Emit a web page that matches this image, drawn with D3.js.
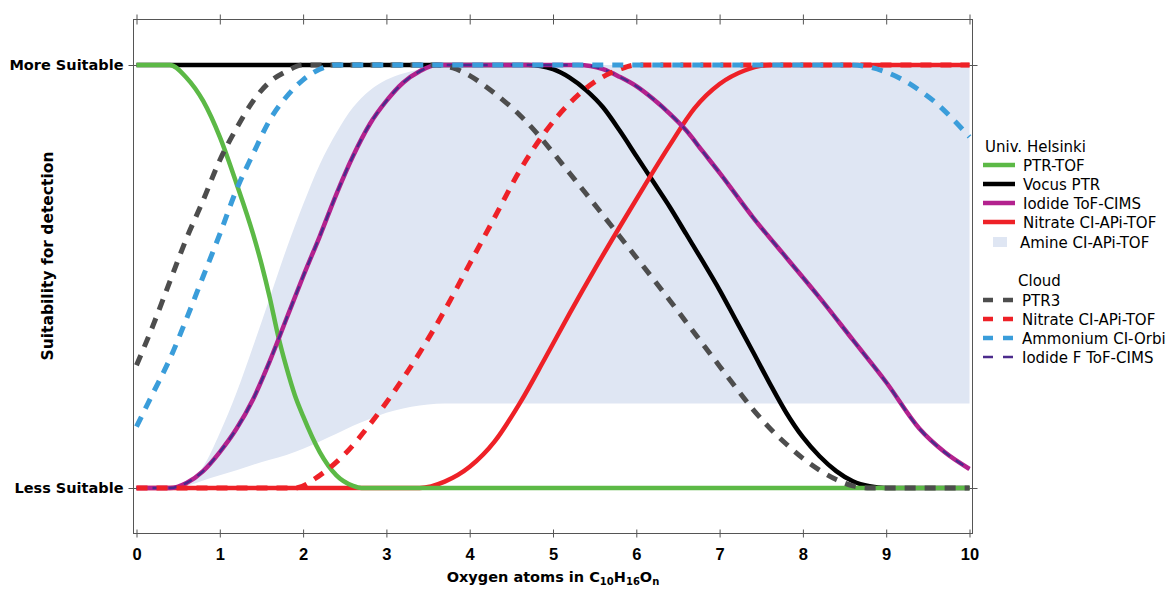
<!DOCTYPE html>
<html>
<head>
<meta charset="utf-8">
<script src="https://cdn.jsdelivr.net/npm/d3@7"></script>
<style>
  body { margin: 0; background: #fff; }
  svg { font-family: "DejaVu Sans", sans-serif; }
</style>
</head>
<body>
<svg width="1169" height="589"></svg>
<script>
// values: [oxygen atoms, suitability 0..1]
var xTicks = [0, 1, 2, 3, 4, 5, 6, 7, 8, 9, 10];
var yTickLabels = ["Less Suitable", "More Suitable"];

var ptrTof = [[0,1],[0.4,1],[0.6,0.97],[0.8,0.915],[1.0,0.83],[1.2,0.72],[1.4,0.6],[1.5,0.53],[1.6,0.45],
  [1.7,0.36],[1.8,0.285],[1.9,0.22],[2.0,0.17],[2.2,0.085],[2.4,0.03],[2.6,0.005],[2.7,0],[10,0]];
var vocusPtr = [[0,1],[4.7,1],[5.0,0.99],[5.2,0.97],[5.4,0.94],[5.6,0.9],[5.8,0.845],[6.0,0.785],[6.2,0.725],
  [6.4,0.665],[6.6,0.6],[6.8,0.535],[7.0,0.468],[7.2,0.395],[7.4,0.322],[7.6,0.248],[7.8,0.178],
  [8.0,0.12],[8.2,0.075],[8.4,0.04],[8.6,0.016],[8.8,0.004],[9.0,0],[10,0]];
var iodideTof = [[0,0],[0.4,0],[0.6,0.012],[0.8,0.04],[1.0,0.085],[1.2,0.14],[1.4,0.21],[1.6,0.3],[1.8,0.4],
  [2.0,0.5],[2.2,0.595],[2.4,0.695],[2.6,0.785],[2.8,0.86],[3.0,0.915],[3.2,0.958],[3.4,0.985],[3.6,1],
  [5.3,1],[5.6,0.99],[5.8,0.972],[6.0,0.95],[6.2,0.92],[6.4,0.885],[6.6,0.845],[6.8,0.795],[7.0,0.745],
  [7.4,0.64],[7.8,0.545],[8.2,0.45],[8.6,0.35],[9.0,0.25],[9.4,0.14],[9.7,0.085],[10,0.045]];
var nitrateTof = [[0,0],[3.4,0],[3.7,0.015],[4.0,0.05],[4.3,0.11],[4.6,0.2],[4.9,0.305],[5.2,0.413],
  [5.5,0.517],[5.8,0.617],[6.1,0.715],[6.4,0.81],[6.7,0.898],[7.0,0.955],[7.3,0.987],[7.6,1],[10,1]];
var amineX = [0.45,0.6,0.8,1.0,1.2,1.4,1.6,1.8,2.0,2.2,2.4,2.6,2.8,3.0,3.2,3.4,3.6,3.8,4.0,10];
var amineLow = [0,0.005,0.018,0.03,0.042,0.055,0.067,0.078,0.093,0.11,0.128,0.147,0.163,0.178,0.188,0.195,0.199,0.2,0.2,0.2];
var amineHigh = [0,0.01,0.05,0.13,0.225,0.335,0.45,0.565,0.67,0.765,0.84,0.9,0.94,0.965,0.98,0.99,0.996,1,1,1];

var ptr3 = [[0,0.29],[0.2,0.385],[0.4,0.488],[0.6,0.59],[0.8,0.68],[1.0,0.775],[1.2,0.85],[1.4,0.915],
  [1.6,0.96],[1.8,0.985],[2.0,1],[3.6,1],[3.8,0.993],[4.0,0.975],[4.2,0.948],[4.4,0.917],[4.6,0.882],
  [4.8,0.84],[5.0,0.793],[5.2,0.744],[5.4,0.695],[5.6,0.645],[5.8,0.595],[6.0,0.545],[6.2,0.495],
  [6.4,0.444],[6.6,0.392],[6.8,0.34],[7.0,0.288],[7.2,0.236],[7.4,0.186],[7.6,0.142],[7.8,0.104],
  [8.0,0.07],[8.2,0.042],[8.4,0.02],[8.6,0.005],[8.8,0],[10,0]];
var nitrateCloud = [[0,0],[1.9,0],[2.2,0.03],[2.5,0.08],[2.8,0.15],[3.1,0.23],[3.4,0.32],[3.7,0.42],
  [4.0,0.53],[4.3,0.64],[4.6,0.75],[4.9,0.84],[5.2,0.91],[5.5,0.96],[5.8,0.99],[6.0,1],[10,1]];
var ammoniumOrbi = [[0,0.145],[0.2,0.225],[0.4,0.305],[0.6,0.4],[0.8,0.5],[1.0,0.6],[1.2,0.705],[1.4,0.79],
  [1.6,0.87],[1.8,0.925],[2.0,0.965],[2.2,0.99],[2.4,1],[8.6,1],[8.8,0.995],[9.0,0.983],[9.2,0.965],
  [9.4,0.94],[9.6,0.91],[9.8,0.872],[10,0.83]];
var iodideF = iodideTof.slice();

var helsinkiNames = ["PTR-TOF", "Vocus PTR", "Iodide ToF-CIMS", "Nitrate CI-APi-TOF", "Amine CI-APi-TOF"];
var cloudNames = ["PTR3", "Nitrate CI-APi-TOF", "Ammonium CI-Orbi", "Iodide F ToF-CIMS"];

var svg = d3.select("svg");
var xScale = d3.scaleLinear().domain([0, 10]).range([136.5, 969.5]),
    yScale = d3.scaleLinear().domain([0, 1]).range([488, 65]);
var frame = {left: 133.5, right: 972.5, top: 19.5, bottom: 533.5};

var line = d3.line()
    .curve(d3.curveMonotoneX)
    .x(function (d) { return xScale(d[0]); })
    .y(function (d) { return yScale(d[1]); });

// amine band
var band = amineX.map(function (v, i) { return {x: v, lo: amineLow[i], hi: amineHigh[i]}; });
svg.append("path")
    .datum(band)
    .attr("fill", "#dfe6f3")
    .attr("d", d3.area().curve(d3.curveMonotoneX)
        .x(function (d) { return xScale(d.x); })
        .y0(function (d) { return yScale(d.lo); })
        .y1(function (d) { return yScale(d.hi); }));

// drawing order bottom -> top
var series = [
    {data: vocusPtr, color: "#000000", width: 4.5, dash: null},
    {data: nitrateTof, color: "#ee2127", width: 4.5, dash: null},
    {data: ptrTof, color: "#5cb946", width: 4.5, dash: null},
    {data: iodideTof, color: "#b3228e", width: 4.5, dash: null},
    {data: iodideF, color: "#4b2b8c", width: 2.4, dash: "9,7"},
    {data: ptr3, color: "#4d4d4d", width: 5, dash: "11,9"},
    {data: nitrateCloud, color: "#ee2127", width: 5, dash: "11,9"},
    {data: ammoniumOrbi, color: "#3a9dda", width: 5, dash: "11,9"}
];

svg.selectAll(".series")
    .data(series)
    .enter().append("path")
    .attr("class", "series")
    .attr("fill", "none")
    .attr("stroke", function (d) { return d.color; })
    .attr("stroke-width", function (d) { return d.width; })
    .attr("stroke-dasharray", function (d) { return d.dash; })
    .attr("d", function (d) { return line(d.data); });

// frame
svg.append("rect")
    .attr("x", frame.left).attr("y", frame.top)
    .attr("width", frame.right - frame.left).attr("height", frame.bottom - frame.top)
    .attr("fill", "none").attr("stroke", "#555").attr("stroke-width", 1);

var gX = svg.append("g")
    .attr("transform", "translate(0," + frame.bottom + ")")
    .call(d3.axisBottom(xScale).tickValues(xTicks).tickSize(0).tickPadding(0));
gX.select(".domain").remove();
gX.selectAll(".tick line").attr("y1", -4).attr("y2", 4).attr("stroke", "#555");
gX.selectAll(".tick text")
    .attr("y", 15).attr("fill", "#000")
    .attr("font-family", "Liberation Sans, Arial, sans-serif")
    .attr("font-weight", "bold").attr("font-size", 16.5);

var gXTop = svg.append("g")
    .attr("transform", "translate(0," + frame.top + ")")
    .call(d3.axisTop(xScale).tickValues(xTicks).tickSize(0).tickFormat(""));
gXTop.select(".domain").remove();
gXTop.selectAll(".tick line").attr("y1", -5).attr("y2", 5).attr("stroke", "#555");

var gY = svg.append("g")
    .attr("transform", "translate(" + frame.left + ",0)")
    .call(d3.axisLeft(yScale).tickValues([0, 1]).tickSize(0)
        .tickFormat(function (d, i) { return yTickLabels[i]; }));
gY.select(".domain").remove();
gY.attr("font-family", "DejaVu Sans, sans-serif").attr("font-size", 14.5).attr("font-weight", "bold");
gY.selectAll(".tick line").attr("x1", -5).attr("x2", 3).attr("stroke", "#555");
gY.selectAll(".tick text").attr("x", -10).attr("fill", "#000");

var gYR = svg.append("g")
    .attr("transform", "translate(" + frame.right + ",0)")
    .call(d3.axisRight(yScale).tickValues([0, 1]).tickSize(0).tickFormat(""));
gYR.select(".domain").remove();
gYR.selectAll(".tick line").attr("x1", -3).attr("x2", 5).attr("stroke", "#555");

// axis titles
svg.append("text")
    .attr("transform", "translate(53,256) rotate(-90)")
    .attr("text-anchor", "middle")
    .attr("font-family", "DejaVu Sans, sans-serif")
    .attr("font-weight", "bold").attr("font-size", 15.5)
    .text("Suitability for detection");

var xt = svg.append("text")
    .attr("x", 553).attr("y", 582)
    .attr("text-anchor", "middle")
    .attr("font-family", "DejaVu Sans, sans-serif")
    .attr("font-weight", "bold").attr("font-size", 14.5);
xt.append("tspan").text("Oxygen atoms in C");
xt.append("tspan").attr("dy", 3).attr("font-size", 10).text("10");
xt.append("tspan").attr("dy", -3).text("H");
xt.append("tspan").attr("dy", 3).attr("font-size", 10).text("16");
xt.append("tspan").attr("dy", -3).text("O");
xt.append("tspan").attr("dy", 3).attr("font-size", 10).text("n");

// legend
var legend = svg.append("g").attr("font-family", "DejaVu Sans, sans-serif").attr("font-size", 15);
legend.append("text").attr("x", 985).attr("y", 152).text("Univ. Helsinki");
var hColors = ["#5cb946", "#000000", "#b3228e", "#ee2127"];
var hRows = [165, 184, 203, 222, 242];
helsinkiNames.forEach(function (name, i) {
    var yy = hRows[i];
    if (i < 4) {
        legend.append("line").attr("x1", 983).attr("x2", 1015).attr("y1", yy).attr("y2", yy)
            .attr("stroke", hColors[i]).attr("stroke-width", 4.5);
        legend.append("text").attr("x", 1023).attr("y", yy + 5.5).text(name);
    } else {
        legend.append("rect").attr("x", 993).attr("y", yy - 5).attr("width", 14).attr("height", 10)
            .attr("fill", "#dfe6f3");
        legend.append("text").attr("x", 1020).attr("y", yy + 5.5).text(name);
    }
});
legend.append("text").attr("x", 1018).attr("y", 286).text("Cloud");
var cColors = ["#4d4d4d", "#ee2127", "#3a9dda", "#4b2b8c"];
var cRows = [300, 319, 338, 357];
cloudNames.forEach(function (name, i) {
    var yy = cRows[i];
    legend.append("line").attr("x1", 983).attr("x2", 1015).attr("y1", yy).attr("y2", yy)
        .attr("stroke", cColors[i]).attr("stroke-width", i === 3 ? 2.4 : 4.5)
        .attr("stroke-dasharray", "10,10");
    legend.append("text").attr("x", 1022).attr("y", yy + 5.5).text(name);
});
</script>
</body>
</html>
